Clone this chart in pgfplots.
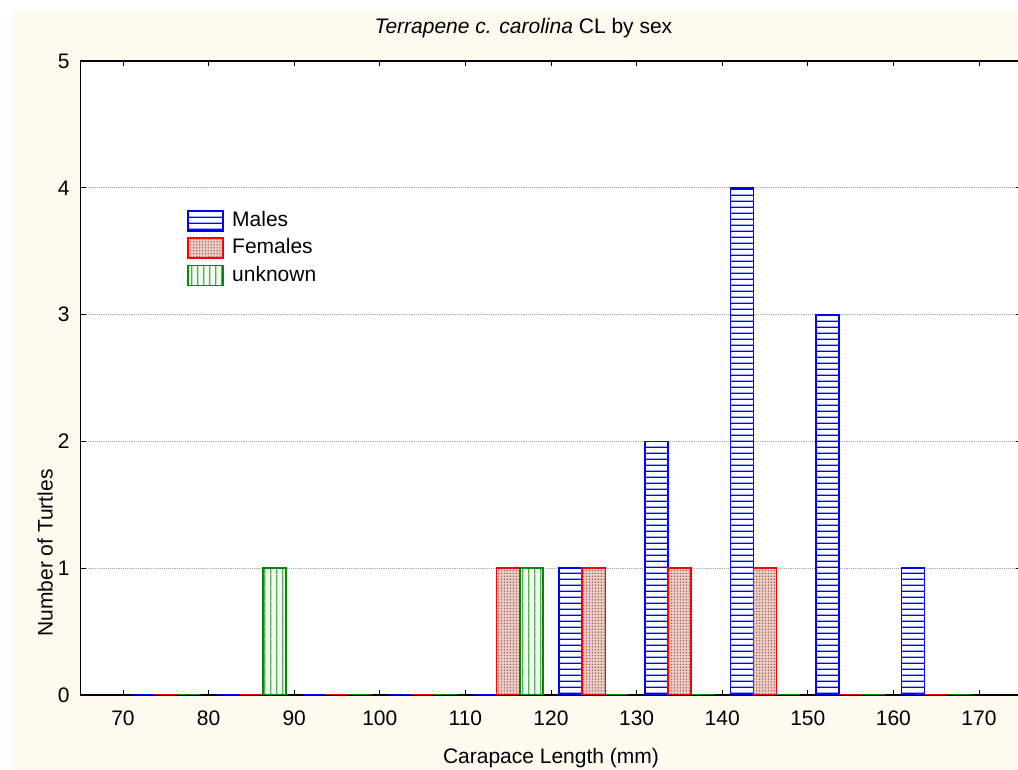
\documentclass[border=0pt]{standalone}
\usepackage{fontspec}
\setmainfont{Liberation Sans}
\usepackage{pgfplots}
\pgfplotsset{compat=1.18}
\usetikzlibrary{patterns,patterns.meta}
\definecolor{cream}{RGB}{254,250,239}
\definecolor{malec}{RGB}{0,0,255}
\definecolor{femc}{RGB}{255,0,0}
\definecolor{femfill}{RGB}{234,204,198}
\definecolor{femdot}{RGB}{160,85,75}
\definecolor{unkc}{RGB}{0,140,0}
\definecolor{unkfill}{RGB}{238,250,238}
\definecolor{unkline}{RGB}{95,165,95}
\pgfdeclarepatterninherentlycolored{malelines}{\pgfpoint{0pt}{0pt}}{\pgfpoint{10pt}{4.3pt}}{\pgfpoint{10pt}{4.3pt}}{%
  \pgfsetfillcolor{malec}%
  \pgfpathrectangle{\pgfpoint{0pt}{1.6pt}}{\pgfpoint{10pt}{1.0pt}}%
  \pgfusepath{fill}}
\pgfdeclarepatterninherentlycolored{unklines}{\pgfpoint{0pt}{0pt}}{\pgfpoint{4.3pt}{10pt}}{\pgfpoint{4.3pt}{10pt}}{%
  \pgfsetfillcolor{unkline}%
  \pgfpathrectangle{\pgfpoint{1.6pt}{0pt}}{\pgfpoint{1.0pt}{10pt}}%
  \pgfusepath{fill}}
\newcommand\fsz{\fontsize{15.75pt}{18pt}\selectfont}
\pgfplotsset{
  mybarlegend/.style={legend image code/.code={\draw[##1] (0pt,-7.5pt) rectangle (26.25pt,7.5pt); \path (32.5pt,0pt);}},
  males/.style={draw=malec, line width=1.2pt, fill=white,
    postaction={pattern=malelines}},
  females/.style={draw=femc, line width=1.2pt, fill=femfill,
    postaction={pattern color=femdot, pattern={Dots[distance=2.2pt,radius=0.55pt]}}},
  unknown/.style={draw=unkc, line width=1.2pt, fill=unkfill,
    postaction={pattern=unklines}},
}
\begin{document}
\begin{tikzpicture}
\useasboundingbox (0,0) rectangle (763.5pt,577.5pt);
\fill[white] (0,0) rectangle (763.5pt,577.5pt);
\fill[cream] (8.25pt,0) rectangle (763.5pt,570pt);
\begin{axis}[
  at={(60.15pt,56.25pt)}, anchor=south west, scale only axis,
  width=706.2pt, height=475.5pt,
  xmin=65, xmax=175, ymin=0, ymax=5,
  xtick={70,80,...,170}, ytick={0,1,2,3,4,5},
  ymajorgrids, major grid style={densely dotted, gray!70, line width=0.5pt},
  axis line style={line width=0.9pt},
  tick style={black, line width=0.6pt}, major tick length=4pt,
  axis background/.style={fill=white},
  tick label style={font=\fsz}, /pgf/number format/assume math mode=true,
  xticklabel style={yshift=-8pt}, yticklabel style={xshift=-4.5pt},
  title={\textit{Terrapene c. carolina} CL by sex},
  title style={font=\fsz, at={(axis description cs:0.4707,1.0315)}, anchor=base, yshift=0pt},
  xlabel={Carapace Length (mm)},
  xlabel style={font=\fsz, at={(axis description cs:0.5,-0.1073)}, anchor=base},
  ylabel={Number of Turtles},
  ylabel style={font=\fsz, at={(axis description cs:-0.0372,0.224)}, anchor=center},
  legend style={at={(axis description cs:0.1134,0.765)}, anchor=north west, draw=none, fill=none,
    font=\fsz, inner sep=0pt, row sep=4.2pt, column sep=0pt,
    nodes={inner sep=0pt, text height=12pt, text depth=3.5pt}},
  legend cell align=left,
]
\addplot[ybar, bar width=2.7, bar shift=-2.7, males, mybarlegend] coordinates {
  (75,0) (85,0) (95,0) (105,0) (115,0) (125,1) (135,2) (145,4) (155,3) (165,1)};
\addlegendentry{Males}
\addplot[ybar, bar width=2.7, bar shift=0, females, mybarlegend] coordinates {
  (75,0) (85,0) (95,0) (105,0) (115,1) (125,1) (135,1) (145,1) (155,0) (165,0)};
\addlegendentry{Females}
\addplot[ybar, bar width=2.7, bar shift=2.7, unknown, mybarlegend] coordinates {
  (75,0) (85,1) (95,0) (105,0) (115,1) (125,0) (135,0) (145,0) (155,0) (165,0)};
\addlegendentry{unknown}
\end{axis}
\end{tikzpicture}
\end{document}
